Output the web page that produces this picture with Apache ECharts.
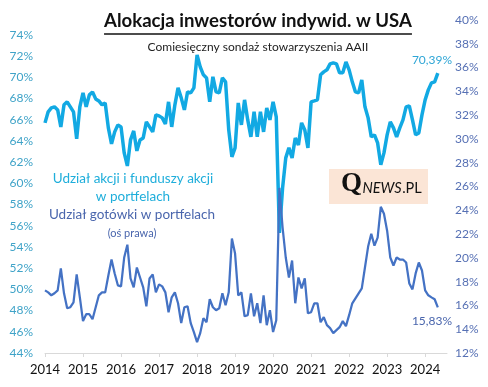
<!DOCTYPE html>
<html>
<head>
<meta charset="utf-8">
<script src="https://cdn.jsdelivr.net/npm/echarts@6/dist/echarts.min.js"></script>
<style>
html,body{margin:0;padding:0;background:#fff;}
#chart{width:488px;height:387px;}
</style>
</head>
<body>
<div id="chart"></div>
<script>
// Month index 0 = January 2014
const yearLabels = ['2014','2015','2016','2017','2018','2019','2020','2021','2022','2023','2024'];

// Share of stocks and stock funds in portfolios (left axis, %)
const stocksShare = [
  65.70,66.74,67.11,67.21,66.92,65.32,67.40,67.68,67.21,66.74,64.19,67.21,
  68.53,67.21,68.34,68.62,67.96,67.77,67.40,67.58,65.23,63.72,64.85,65.51,
  65.32,62.87,61.64,64.09,64.94,63.06,64.09,64.28,65.79,65.32,64.85,66.45,
  66.36,66.17,65.60,67.68,65.32,67.40,69.00,68.06,66.92,68.62,68.53,69.00,
  72.11,70.98,70.23,69.94,67.68,70.04,68.62,68.53,69.94,69.57,65.04,62.49,
  63.34,67.58,65.51,67.87,65.98,64.38,66.74,64.38,66.74,64.85,67.11,65.98,
  67.68,66.26,55.32,59.57,62.40,63.34,62.40,64.28,63.62,65.70,65.04,63.34,
  67.68,67.77,67.87,70.23,70.51,70.70,71.26,71.36,71.26,70.42,70.42,71.45,
  70.70,69.57,68.62,68.53,69.75,67.21,66.17,64.38,64.57,63.81,61.74,62.87,
  64.57,65.79,65.23,64.38,65.23,65.98,67.21,67.30,65.98,64.57,64.75,66.45,
  67.87,68.81,69.47,69.57,70.39
];

// Share of cash in portfolios (right axis, %)
const cashShare = [
  17.27,17.10,16.85,17.02,17.27,19.11,17.02,15.76,15.85,16.26,18.61,16.68,
  14.68,15.26,15.26,14.84,15.85,16.85,17.10,17.10,18.52,19.86,18.69,17.69,
  17.60,20.03,21.11,18.27,17.52,19.19,18.35,17.52,15.93,18.27,18.61,17.10,
  17.77,17.60,17.10,15.43,16.68,17.10,16.18,14.51,15.85,15.93,14.51,13.76,
  12.92,13.67,14.93,14.59,16.52,15.85,15.60,15.76,17.02,16.01,17.10,21.62,
  20.36,16.85,17.10,15.09,15.18,17.02,15.09,16.18,14.51,16.85,14.34,15.60,
  13.76,14.76,25.88,22.54,20.03,18.35,19.78,16.18,18.35,17.43,18.27,15.34,
  15.43,16.18,16.18,14.59,15.01,14.34,14.09,13.67,13.92,14.17,14.68,14.26,
  15.18,16.18,16.60,17.02,17.43,19.19,20.95,22.03,21.03,21.70,24.29,23.71,
  22.28,20.03,19.36,20.03,19.86,19.86,19.61,17.85,17.35,18.69,19.61,18.94,
  17.27,16.85,16.68,16.52,15.83
];

const titleText = 'Alokacja inwestorów indywid. w USA';
const subtitleText = 'Comiesięczny sondaż stowarzyszenia AAII';
const legendStocks = ['Udział akcji i funduszy akcji', 'w portfelach'];
const legendCash = ['Udział gotówki w portfelach', '(oś prawa)'];
const lastStocksLabel = '70,39%';
const lastCashLabel = '15,83%';

const FONT = 'Lato, "Open Sans", sans-serif';
const cyan = '#12A9E3';
const blue = '#4472C4';

const ctx = document.createElement('canvas').getContext('2d');
function textW(text, font) { ctx.font = font; return ctx.measureText(text).width; }

const titleBase = 'bold 20px Lato';
const titleSize = Math.min(21, 20 * 308 / textW(titleText, titleBase));
const titleFont = 'bold ' + titleSize + 'px Lato';
const titleW = textW(titleText, titleFont);

const qFont = 'bold 27px "Liberation Serif", "DejaVu Serif", serif';
const nFont = 'italic 14.5px Lato';
const pFont = '14.5px Lato';
const qX = 341;
const nX = qX + textW('Q', qFont) + 0.5;
const pX = nX + textW('NEWS', nFont) + 0.5;

const stocksData = stocksShare.map((v, i) => [i, v]);
const cashData = cashShare.map((v, i) => [i, v]);

const chart = echarts.init(document.getElementById('chart'), null, {renderer: 'canvas'});
chart.setOption({
  animation: false,
  backgroundColor: '#fff',
  grid: {left: 45, right: 41, top: 20, bottom: 34},
  xAxis: {
    type: 'value', min: 0, max: 126.9, interval: 12,
    axisLine: {show: true, lineStyle: {color: '#d9d9d9', width: 1}},
    axisTick: {show: true, length: 4, lineStyle: {color: '#d9d9d9'}},
    splitLine: {show: false},
    axisLabel: {
      margin: 10, color: '#111', fontFamily: FONT, fontSize: 13, showMaxLabel: false,
      formatter: v => (v % 12 === 0 ? yearLabels[v / 12] || '' : '')
    }
  },
  yAxis: [
    {
      type: 'value', min: 44, max: 75.4, interval: 2, position: 'left',
      axisLine: {show: false}, axisTick: {show: false}, splitLine: {show: false},
      axisLabel: {
        margin: 12, color: '#3FA3C8', fontFamily: FONT, fontSize: 12, showMaxLabel: false,
        formatter: v => (Math.abs(v - Math.round(v)) < 1e-6 && Math.round(v) % 2 === 0 ? Math.round(v) + '%' : '')
      }
    },
    {
      type: 'value', min: 12, max: 40, interval: 2, position: 'right',
      axisLine: {show: false}, axisTick: {show: false}, splitLine: {show: false},
      axisLabel: {margin: 8, color: '#5670B4', fontFamily: FONT, fontSize: 12, formatter: v => v + '%'}
    }
  ],
  series: [
    {
      type: 'line', name: 'stocks', yAxisIndex: 0, data: stocksData, showSymbol: false,
      lineStyle: {color: cyan, width: 3.5}, itemStyle: {color: cyan}, z: 2
    },
    {
      type: 'line', name: 'cash', yAxisIndex: 1, data: cashData, showSymbol: false,
      lineStyle: {color: blue, width: 2.25}, itemStyle: {color: blue}, z: 3
    }
  ],
  graphic: [
    {type: 'text', left: 258 - titleW / 2, top: 12, style: {text: titleText, font: titleFont, fill: '#111'}},
    {type: 'line', shape: {x1: 258 - titleW / 2, y1: 34, x2: 258 + titleW / 2, y2: 34}, style: {stroke: '#111', lineWidth: 1.3}},
    {type: 'text', x: 258, y: 47, style: {text: subtitleText, font: '12px Lato', fill: '#222', align: 'center', verticalAlign: 'middle'}},
    {type: 'text', x: 133, y: 179, style: {text: legendStocks[0], font: '13.5px Lato', fill: '#1FAEDB', align: 'center', verticalAlign: 'middle'}},
    {type: 'text', x: 133, y: 197, style: {text: legendStocks[1], font: '13.5px Lato', fill: '#1FAEDB', align: 'center', verticalAlign: 'middle'}},
    {type: 'text', x: 132, y: 215, style: {text: legendCash[0], font: '13.5px Lato', fill: '#4A66AD', align: 'center', verticalAlign: 'middle'}},
    {type: 'text', x: 132, y: 233, style: {text: legendCash[1], font: '11px Lato', fill: '#4A66AD', align: 'center', verticalAlign: 'middle'}},
    {type: 'text', x: 432, y: 60, style: {text: lastStocksLabel, font: '12px Lato', fill: '#2FA6D6', align: 'center', verticalAlign: 'middle'}},
    {type: 'text', x: 432, y: 321, style: {text: lastCashLabel, font: '12px Lato', fill: '#4A66AD', align: 'center', verticalAlign: 'middle'}},
    {type: 'rect', shape: {x: 329, y: 169, width: 99, height: 35}, style: {fill: '#FBE5D6'}},
    {type: 'text', x: qX, y: 198, style: {text: 'Q', font: qFont, fill: '#111', verticalAlign: 'bottom'}},
    {type: 'text', x: nX, y: 196, style: {text: 'NEWS', font: nFont, fill: '#111', verticalAlign: 'bottom'}},
    {type: 'text', x: pX, y: 196, style: {text: '.PL', font: pFont, fill: '#111', verticalAlign: 'bottom'}}
  ]
});
</script>
</body>
</html>
